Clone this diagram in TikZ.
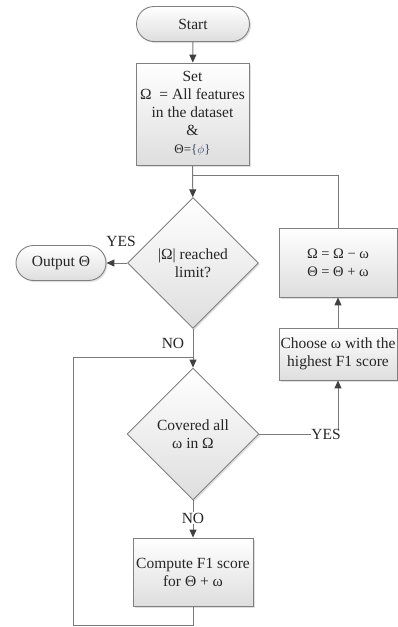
\documentclass[tikz,border=0pt]{standalone}
\usepackage{fontspec}
\setmainfont{Liberation Serif}
\usetikzlibrary{shapes.geometric,shapes.misc,shadows,arrows.meta}
\definecolor{lnc}{HTML}{7A7A7A}
\definecolor{bdc}{HTML}{808080}
\definecolor{arc}{HTML}{404040}
\begin{document}
\begin{tikzpicture}[x=1pt,y=-1pt,
  font=\fontsize{15.5}{18}\selectfont,
  base/.style={draw=bdc, line width=0.9pt, top color=white, bottom color=black!13,
     drop shadow={opacity=0.25, shadow xshift=1.5pt, shadow yshift=-1.5pt},
     align=center, inner sep=0pt, text=black!85},
  boxnode/.style={base, rectangle},
  pill/.style={base, rounded rectangle},
  decision/.style={base, diamond, aspect=1, minimum size=131pt},
  conn/.style={draw=lnc, line width=1pt},
  arr/.style={conn, -{Triangle[length=8pt,width=7pt,fill=arc,color=arc]}},
  lbl/.style={inner sep=1pt, text=black!85}]
\useasboundingbox (0,0) rectangle (397,627);

\node[pill, minimum width=113pt, minimum height=35pt] (start) at (193,24) {Start};
\node[boxnode, minimum width=113pt, minimum height=102pt] (set) at (192.5,114)
  {Set\\ Ω \ = All features\\ in the dataset\\ \&\\ {\fontsize{13}{18}\selectfont Θ=\textcolor[HTML]{3A4A6A}{\{$\phi$\}}}};
\node[decision] (d1) at (193,263) {|Ω| reached\\ limit?};
\node[pill, minimum width=90pt, minimum height=35pt] (out) at (61,263) {Output Θ};
\node[boxnode, minimum width=118pt, minimum height=69pt] (upd) at (338,262.5)
  {{\fontsize{14.5}{18}\selectfont Ω = Ω − ω}\\ {\fontsize{14.5}{18}\selectfont Θ = Θ + ω}};
\node[boxnode, minimum width=118pt, minimum height=52pt] (choose) at (338,354)
  {Choose ω with the\\ highest F1 score};
\node[decision, minimum size=132pt] (d2) at (193,434) {Covered all\\ ω in Ω};
\node[boxnode, minimum width=120pt, minimum height=68pt] (comp) at (193,572)
  {Compute F1 score\\ for Θ + ω};

\node[lbl] (yes1) at (121,241) {YES};
\node[lbl] (no1) at (173,343) {NO};
\node[lbl, inner sep=0pt] (yes2) at (326,434) {YES};
\node[lbl] (no2) at (193,518) {NO};

\coordinate (j1) at (193,175);
\coordinate (j2) at (193,357);

\draw[arr] (start) -- (set);
\draw[arr] (set) -- (d1);
\draw[conn] (upd.north) |- (j1);
\draw[arr] (d1.west) -- (out.east);
\draw[arr] (d1.south) -- (d2.north);
\draw[conn] (d2.east) -- (yes2.west);
\draw[arr] (yes2.north -| choose.south) -- (choose.south);
\draw[arr] (choose.north) -- (upd.south);
\draw[conn] (d2.south) -- (no2.north);
\draw[arr] (no2.south) -- (comp.north);
\draw[conn] (comp.south) -- ++(0,19) -| (73,357) -- (j2);
\end{tikzpicture}
\end{document}
